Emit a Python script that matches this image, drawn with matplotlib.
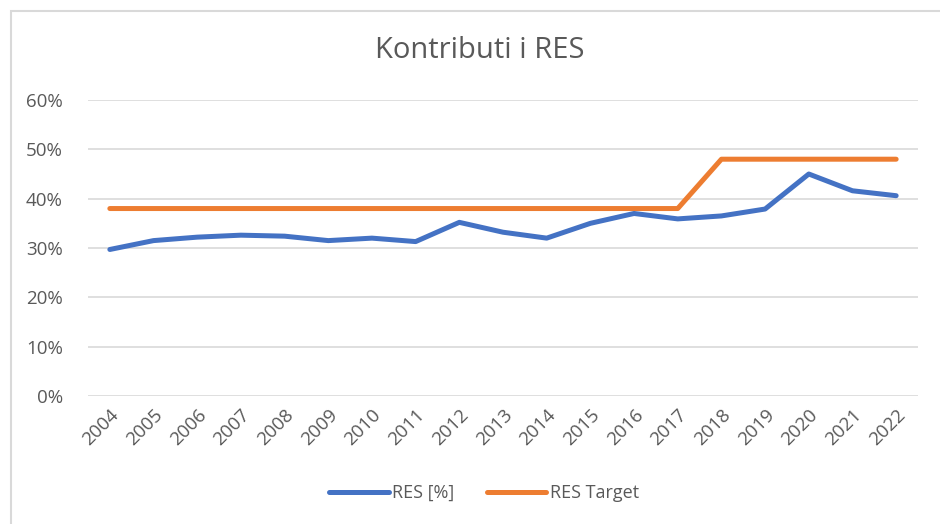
import matplotlib
matplotlib.use("Agg")
import matplotlib.pyplot as plt
from matplotlib.ticker import PercentFormatter
from matplotlib.patches import Rectangle

years = [str(y) for y in range(2004, 2023)]
res_pct = [29.7, 31.5, 32.2, 32.6, 32.4, 31.5, 32.0, 31.3, 35.2, 33.2, 32.0, 35.0, 37.0, 35.9, 36.5, 37.9, 45.0, 41.6, 40.6]
res_target = [38, 38, 38, 38, 38, 38, 38, 38, 38, 38, 38, 38, 38, 38, 48, 48, 48, 48, 48]

plt.rcParams['font.family'] = ['Open Sans', 'DejaVu Sans']
grey = '#595959'

fig = plt.figure(figsize=(9.4, 5.24), dpi=100)
fig.patches.append(Rectangle((11/940, -0.05), 1.2, 1 - 11/524 + 0.05, transform=fig.transFigure,
                             fill=False, edgecolor='#d9d9d9', linewidth=1.5))
ax = fig.add_axes([88/940, 1 - 396/524, 830/940, 296/524])

x = list(range(len(years)))
ax.plot(x, res_pct, color='#4472C4', lw=3.6, solid_capstyle='round', solid_joinstyle='round', label='RES [%]')
ax.plot(x, res_target, color='#ED7D31', lw=3.6, solid_capstyle='round', solid_joinstyle='round', label='RES Target')

ax.set_xlim(-0.5, len(years) - 0.5)
ax.set_ylim(0, 60)
ax.set_yticks(range(0, 61, 10))
ax.yaxis.set_major_formatter(PercentFormatter(decimals=0))
ax.set_xticks(x)
ax.set_xticklabels(years, rotation=45, ha='right', rotation_mode='anchor')
ax.tick_params(axis='both', colors=grey, labelsize=13.5, length=0)
ax.tick_params(axis='x', pad=7)
ax.tick_params(axis='y', pad=18)
ax.grid(axis='y', color='#d9d9d9', lw=1.2)
ax.set_axisbelow(True)
for s in ax.spines.values():
    s.set_visible(False)

fig.text(480/940, 1 - 50/524, 'Kontributi i RES', ha='center', va='center', fontsize=21, color=grey)
fig.legend(loc='center', bbox_to_anchor=(0.515, 1 - 493/524), ncol=2, frameon=False,
           fontsize=13, labelcolor=grey, handlelength=3.3, columnspacing=1.8, handletextpad=0.2)

fig.savefig('out.png', dpi=100)
